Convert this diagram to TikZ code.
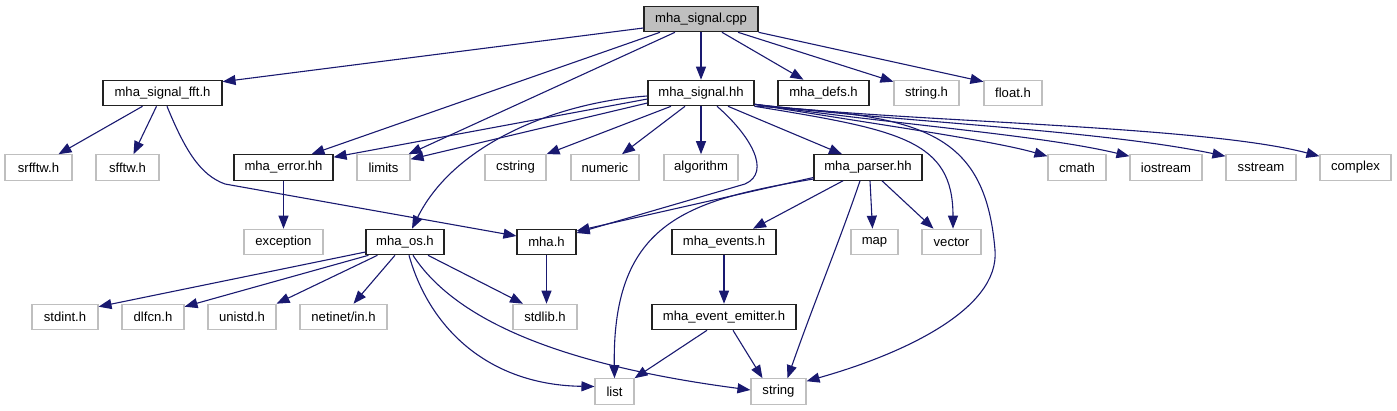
\documentclass[tikz,border=0pt]{standalone}
\usepackage{fontspec}
\setmainfont{Liberation Sans}
\usetikzlibrary{arrows.meta}
\definecolor{edgeblue}{HTML}{191970}
\definecolor{graybd}{HTML}{BFBFBF}
\definecolor{rootfill}{HTML}{BFBFBF}
\definecolor{darkbd}{HTML}{222222}
\newcommand{\nodefont}{\fontsize{13.1pt}{14pt}\selectfont}
\tikzset{
  nb/.style={draw=darkbd, line width=1.1pt, rectangle, inner sep=0pt, minimum height=25.5pt, font=\nodefont, fill=white},
  ng/.style={draw=graybd, line width=1.1pt, rectangle, inner sep=0pt, minimum height=25.5pt, font=\nodefont, fill=white},
  root/.style={nb, fill=rootfill},
  dep/.style={draw=edgeblue, line width=1.1pt, -{Triangle[length=13pt,width=10pt]}}
}
\begin{document}
\begin{tikzpicture}[x=1pt,y=-1pt]
\useasboundingbox (0,0) rectangle (1397,411);
% row 0
\node[root, minimum width=114pt] (cpp) at (701,19) {mha\_signal.cpp};
% row 1
\node[nb, minimum width=119pt] (fft) at (162.5,93) {mha\_signal\_fft.h};
\node[nb, minimum width=106pt] (hss) at (701,93) {mha\_signal.hh};
\node[nb, minimum width=91pt] (defs) at (823.5,93) {mha\_defs.h};
\node[ng, minimum width=65pt] (strh) at (926.5,93) {string.h};
\node[ng, minimum width=58pt] (flt) at (1013,93) {float.h};
% row 2
\node[ng, minimum width=67pt] (srfftw) at (38.5,167.5) {srfftw.h};
\node[ng, minimum width=63pt] (sfftw) at (127.5,167.5) {sfftw.h};
\node[nb, minimum width=99pt] (err) at (283.5,167.5) {mha\_error.hh};
\node[ng, minimum width=53pt] (limits) at (383.5,167.5) {limits};
\node[ng, minimum width=61pt] (cstr) at (515.5,167.5) {cstring};
\node[ng, minimum width=68pt] (num) at (605,167.5) {numeric};
\node[ng, minimum width=74pt] (alg) at (701,167.5) {algorithm};
\node[nb, minimum width=108pt] (parser) at (868,167.5) {mha\_parser.hh};
\node[ng, minimum width=58pt] (cmath) at (1077,167.5) {cmath};
\node[ng, minimum width=72pt] (ios) at (1166,167.5) {iostream};
\node[ng, minimum width=70pt] (sst) at (1261,167.5) {sstream};
\node[ng, minimum width=71pt] (cplx) at (1355.5,167.5) {complex};
% row 3
\node[ng, minimum width=79pt] (exc) at (283.5,242) {exception};
\node[nb, minimum width=78pt] (os) at (405,242) {mha\_os.h};
\node[nb, minimum width=59pt] (mha) at (546.5,242) {mha.h};
\node[nb, minimum width=104pt] (ev) at (724,242) {mha\_events.h};
\node[ng, minimum width=47pt] (map) at (874.5,242) {map};
\node[ng, minimum width=59pt] (vec) at (951.5,242) {vector};
% row 4
\node[ng, minimum width=66pt] (stdint) at (65,317) {stdint.h};
\node[ng, minimum width=62pt] (dlfcn) at (153,317) {dlfcn.h};
\node[ng, minimum width=68pt] (unistd) at (242,317) {unistd.h};
\node[ng, minimum width=87pt] (net) at (343.5,317) {netinet/in.h};
\node[ng, minimum width=64pt] (stdl) at (545,317) {stdlib.h};
\node[nb, minimum width=144pt] (em) at (724,317) {mha\_event\_emitter.h};
% row 5
\node[ng, minimum width=39pt] (list) at (614.5,391.5) {list};
\node[ng, minimum width=55pt] (str) at (778.5,391.5) {string};

% edges from mha_signal.cpp
\draw[dep] ([yshift=-9pt]cpp.west) -- ([yshift=-2pt]fft.north east);
\draw[dep] ([xshift=-41pt]cpp.south) -- ([xshift=28pt]err.north);
\draw[dep] ([xshift=-26pt]cpp.south) -- ([xshift=-2pt]limits.north east);
\draw[dep] (cpp) -- (hss);
\draw[dep] ([xshift=21pt]cpp.south) -- ([xshift=-20pt]defs.north);
\draw[dep] ([xshift=37pt]cpp.south) -- ([yshift=-2pt]strh.north west);
\draw[dep] (cpp.south east) -- ([yshift=-2pt]flt.north west);

% edges from mha_signal_fft.h
\draw[dep] ([xshift=-20pt]fft.south) -- ([xshift=20pt]srfftw.north);
\draw[dep] ([xshift=-6pt]fft.south) -- ([xshift=6pt]sfftw.north);
\draw[dep] ([xshift=4.5pt]fft.south) .. controls (185,150) and (200,175) .. (225,184) -- ([yshift=6pt]mha.west);

% edges from mha_signal.hh
\draw[dep] ([yshift=-6pt]hss.west) -- ([yshift=-3pt]err.north east);
\draw[dep] ([yshift=-10pt]hss.west) -- ([yshift=-5pt]limits.north east);
\draw[dep] ([yshift=-3pt]hss.west) .. controls (560,102) and (455,142) .. ([xshift=7pt]os.north);
\draw[dep] ([xshift=-30pt]hss.south) -- (cstr.north east);
\draw[dep] ([xshift=-16pt]hss.south) -- ([xshift=17pt]num.north);
\draw[dep] (hss) -- (alg);
\draw[dep] ([xshift=16pt]hss.south) .. controls (750,135) and (772,172) .. (745,184) -- ([yshift=9pt]mha.east);
\draw[dep] ([xshift=27pt]hss.south) -- ([xshift=-26pt]parser.north);
\draw[dep] (hss.south east) .. controls (900,130) and (953,140) .. ([xshift=1.5pt]vec.north);
\draw[dep] (hss.south east) .. controls (920,115) and (985,130) .. (995,250) .. controls (1000,310) and (900,355) .. ([yshift=-3pt]str.north east);
\draw[dep] ([yshift=2pt]hss.south east) .. controls (880,125) and (990,140) .. ([yshift=-2pt]cmath.north west);
\draw[dep] ([yshift=2pt]hss.south east) .. controls (900,125) and (1040,135) .. ([yshift=-2pt]ios.north west);
\draw[dep] ([yshift=2pt]hss.south east) .. controls (900,122) and (1100,130) .. ([yshift=-2pt]sst.north west);
\draw[dep] ([yshift=2pt]hss.south east) .. controls (900,122) and (1200,125) .. ([yshift=-2pt]cplx.north west);

% mha_error.hh
\draw[dep] (err) -- (exc);

% mha_parser.hh
\draw[dep] ([yshift=-10pt]parser.west) -- ([yshift=11pt]mha.east);
\draw[dep] ([yshift=-11.5pt]parser.west) .. controls (690,200) and (612,220) .. (list.north);
\draw[dep] ([xshift=-25pt]parser.south) -- ([xshift=29pt]ev.north);
\draw[dep] ([xshift=-8pt]parser.south) .. controls (840,240) and (815,300) .. ([xshift=9pt]str.north);
\draw[dep] ([xshift=2pt]parser.south) -- ([xshift=-2pt]map.north);
\draw[dep] ([xshift=14pt]parser.south) -- ([xshift=-18pt]vec.north);

% mha_os.h
\draw[dep] ([yshift=-10pt]os.west) -- ([yshift=-3pt]stdint.north east);
\draw[dep] ([xshift=3pt]os.south west) -- ([yshift=-3pt]dlfcn.north east);
\draw[dep] ([xshift=12pt]os.south west) -- (unistd.north east);
\draw[dep] ([xshift=-10pt]os.south) -- ([xshift=10pt]net.north);
\draw[dep] ([xshift=23pt]os.south) -- ([xshift=-22pt]stdl.north);
\draw[dep] ([xshift=4pt]os.south) .. controls (430,330) and (490,385) .. ([yshift=5pt]list.west);
\draw[dep] ([xshift=8pt]os.south) .. controls (455,320) and (560,365) .. ([yshift=1.5pt]str.west);

% mha.h
\draw[dep] (mha.south) -- (mha.south |- stdl.north);

% mha_events.h
\draw[dep] (ev) -- (em);

% mha_event_emitter.h
\draw[dep] ([xshift=-17pt]em.south) -- (list.north east);
\draw[dep] ([xshift=9pt]em.south) -- ([xshift=-16pt]str.north);
\end{tikzpicture}
\end{document}
